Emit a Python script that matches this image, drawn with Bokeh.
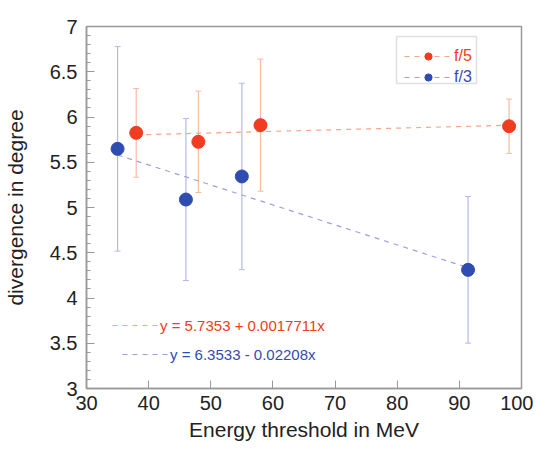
from bokeh.plotting import figure
from bokeh.models import (Legend, LegendItem, SingleIntervalTicker, CustomJSTickFormatter,
                          Whisker, ColumnDataSource, BoxAnnotation, Range1d)
from bokeh.embed import file_html
from bokeh.resources import INLINE

# data
x_f5 = [38, 48, 58, 98]
y_f5 = [5.825, 5.726, 5.91, 5.898]
err_f5 = [0.49, 0.56, 0.73, 0.30]

x_f3 = [35, 46, 55, 91.4]
y_f3 = [5.648, 5.088, 5.343, 4.311]
err_f3 = [1.13, 0.895, 1.03, 0.81]

fit_f5 = (5.7353, 0.0017711)
fit_f3 = (6.3533, -0.02208)
eq_f5 = "y = 5.7353 + 0.0017711x"
eq_f3 = "y = 6.3533 - 0.02208x"

RED = "#f03c20"
BLUE = "#2f4db0"
RED_LIGHT = "#f9bba3"
BLUE_LIGHT = "#b5b9e6"
RED_FIT = "#f7a688"
BLUE_FIT = "#9ca1dc"
FONT = "Liberation Sans"

p = figure(width=533, height=443, output_backend="svg", toolbar_location=None,
           x_range=Range1d(30, 100), y_range=Range1d(3, 7),
           min_border_left=86, min_border_right=12, min_border_top=26, min_border_bottom=55)
p.xgrid.visible = False
p.ygrid.visible = False
p.outline_line_color = "#999999"
p.outline_line_width = 1.5

fmt = CustomJSTickFormatter(code="return String(Math.round(tick*10)/10)")
for ax in (p.xaxis[0], p.yaxis[0]):
    ax.axis_line_color = "#999999"
    ax.axis_line_width = 1.5
    ax.major_tick_in = 8
    ax.major_tick_out = 0
    ax.minor_tick_in = 4
    ax.minor_tick_out = 0
    ax.major_tick_line_color = "#999999"
    ax.minor_tick_line_color = "#999999"
    ax.major_label_text_font = FONT
    ax.major_label_text_font_size = "20px"
    ax.major_label_text_color = "#222222"
    ax.axis_label_text_font = FONT
    ax.axis_label_text_font_size = "21px"
    ax.axis_label_text_font_style = "normal"
    ax.axis_label_text_color = "#222222"
    ax.formatter = fmt
p.xaxis[0].ticker = SingleIntervalTicker(interval=10, num_minor_ticks=0)
p.yaxis[0].ticker = SingleIntervalTicker(interval=0.5, num_minor_ticks=5)
p.xaxis[0].axis_label = "Energy threshold in MeV"
p.yaxis[0].axis_label = "divergence in degree"
p.xaxis[0].major_label_standoff = 7
p.yaxis[0].major_label_standoff = 9
p.xaxis[0].axis_label_standoff = 5
p.yaxis[0].axis_label_standoff = 20

src5 = ColumnDataSource(dict(x=x_f5, y=y_f5,
                             lo=[a - b for a, b in zip(y_f5, err_f5)],
                             hi=[a + b for a, b in zip(y_f5, err_f5)]))
src3 = ColumnDataSource(dict(x=x_f3, y=y_f3,
                             lo=[a - b for a, b in zip(y_f3, err_f3)],
                             hi=[a + b for a, b in zip(y_f3, err_f3)]))

for src, col in ((src5, RED_LIGHT), (src3, BLUE_LIGHT)):
    w = Whisker(base="x", lower="lo", upper="hi", source=src, line_color=col, line_width=1.2)
    w.upper_head.size = 6
    w.lower_head.size = 6
    w.upper_head.line_color = col
    w.lower_head.line_color = col
    p.add_layout(w)

# fit lines
fx5 = [min(x_f5), max(x_f5)]
fy5 = [fit_f5[0] + fit_f5[1] * v for v in fx5]
fx3 = [min(x_f3), max(x_f3)]
fy3 = [fit_f3[0] + fit_f3[1] * v for v in fx3]
l5 = p.line(fx5, fy5, line_color=RED_FIT, line_dash="5 5", line_width=1.2)
l3 = p.line(fx3, fy3, line_color=BLUE_FIT, line_dash="5 5", line_width=1.2)

s5 = p.scatter("x", "y", source=src5, size=13, fill_color=RED, line_color=RED)
s3 = p.scatter("x", "y", source=src3, size=13, fill_color=BLUE, line_color=BLUE)

def mk_legend(label, renderers, color, loc, gw, fs="15px"):
    lg = Legend(items=[LegendItem(label=label, renderers=renderers)], location=loc,
                border_line_color=None, background_fill_alpha=0,
                label_text_color=color, label_text_font=FONT, label_text_font_size=fs,
                glyph_width=gw, glyph_height=18, padding=0, margin=0, spacing=0,
                label_standoff=2)
    p.add_layout(lg, "center")
    return lg

mk_legend("f/5", [l5, s5], RED, (318, 323), 48, "16px")
mk_legend("f/3", [l3, s3], BLUE, (318, 302), 48, "16px")
mk_legend(eq_f5, [l5], RED, (26, 54), 46)
mk_legend(eq_f3, [l3], BLUE, (36, 25), 46)

box = BoxAnnotation(left=310, right=390, top=352, bottom=305,
                    left_units="screen", right_units="screen", top_units="screen", bottom_units="screen",
                    fill_alpha=0, line_color="#999999", line_width=1.5)
p.add_layout(box)

open("out.html", "w").write(file_html(p, INLINE))
